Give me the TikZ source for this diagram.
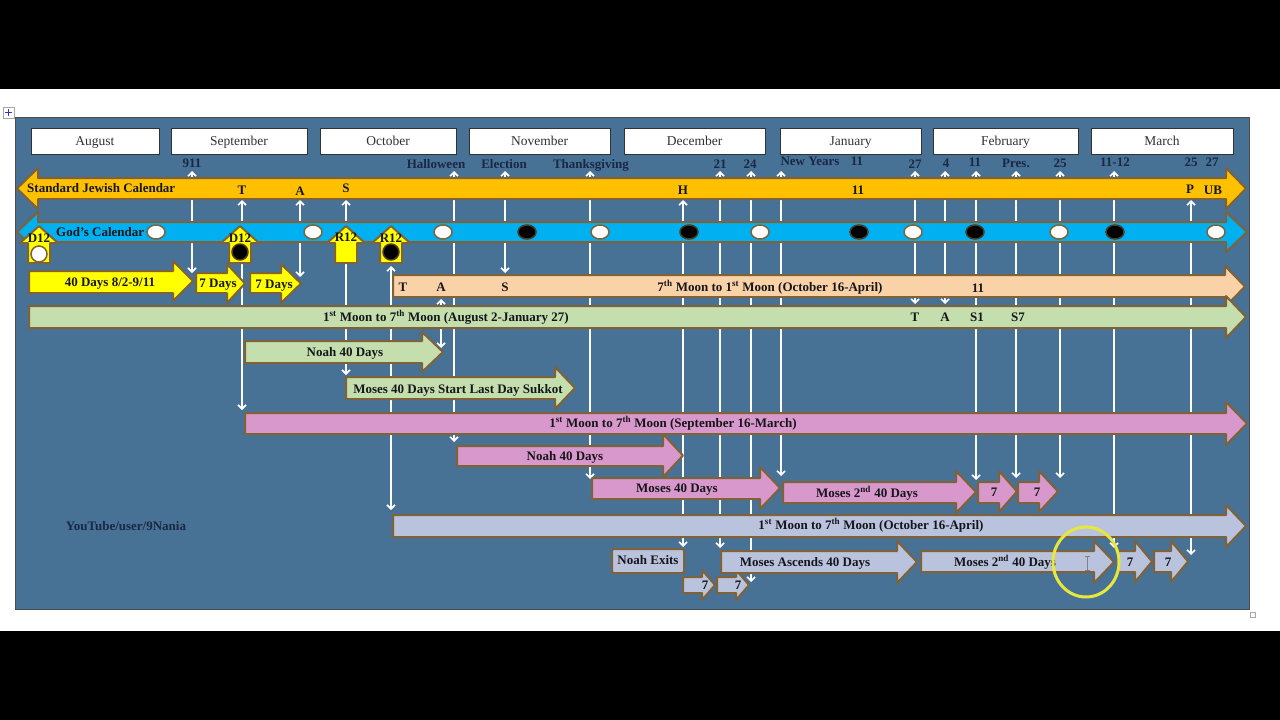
\documentclass[tikz,border=0pt]{standalone}
\usepackage{fontspec}
\setmainfont{Liberation Serif}
\usetikzlibrary{arrows.meta}
\definecolor{panel}{RGB}{72,113,150}
\definecolor{edge}{RGB}{128,98,56}
\definecolor{orng}{RGB}{255,192,0}
\definecolor{sky}{RGB}{0,176,240}
\definecolor{yel}{RGB}{255,255,0}
\definecolor{peach}{RGB}{250,210,168}
\definecolor{grn}{RGB}{196,222,174}
\definecolor{pnk}{RGB}{216,152,204}
\definecolor{lav}{RGB}{185,195,221}
\definecolor{ink}{RGB}{22,22,26}
\definecolor{navy}{RGB}{26,40,68}
\definecolor{mtext}{RGB}{50,50,50}
\definecolor{hilite}{RGB}{232,232,60}
\newcommand{\rarr}[8]{\draw[shp, fill=#1] (#2,#5) -- (#3,#5) -- (#3,#7) -- (#4,{(#7+#8)/2}) -- (#3,#8) -- (#3,#6) -- (#2,#6) -- cycle;}
\newcommand{\uparr}[1]{\draw[shp, fill=yel] (#1,226) -- ({#1+19},243) -- ({#1+11},243) -- ({#1+11},263) -- ({#1-11},263) -- ({#1-11},243) -- ({#1-19},243) -- cycle;}
\tikzset{
  lbl/.style={font=\fontsize{13}{15}\selectfont\bfseries, text=ink, inner sep=0pt, text height=8.6pt, text depth=0pt},
  toplbl/.style={lbl, text=navy},
  month/.style={draw=mtext, fill=white, line width=1pt, font=\fontsize{13.5}{15}\selectfont, text=mtext, minimum height=26pt, inner sep=0pt, text height=8.8pt, text depth=0pt},
  evl/.style={white, line width=1.6pt, {Straight Barb[length=4pt,width=8pt]}-{Straight Barb[length=4pt,width=8pt]}},
  shp/.style={draw=edge, line width=2pt, line join=round},
  wdot/.style={draw=edge, line width=1.5pt, fill=white},
  bdot/.style={draw=edge!60!black, line width=1.5pt, fill=black},
}
\begin{document}
\begin{tikzpicture}[x=1pt,y=-1pt]
\useasboundingbox (0,0) rectangle (1280,720);
\fill[black] (0,0) rectangle (1280,720);
\fill[white] (0,89) rectangle (1280,631);
% handles
\draw[gray!70, line width=0.6pt] (3,107) rectangle (14,118);
\draw[blue!60!gray, line width=0.8pt] (8.5,109) -- (8.5,116) (5,112.5) -- (12,112.5);
\draw[gray!70, line width=0.6pt] (1250,612) rectangle (1255,617);
% panel
\draw[draw=black!70, line width=1pt, fill=panel] (15.5,117.5) rectangle (1249.5,609.5);
% months
\node[month, minimum width=128pt] (aug) at (95,141) {August};
\node[month, minimum width=136pt] (sep) at (239,141) {September};
\node[month, minimum width=136pt] (oct) at (388,141) {October};
\node[month, minimum width=141pt] (nov) at (539.5,141) {November};
\node[month, minimum width=141pt] (dec) at (694.5,141) {December};
\node[month, minimum width=141pt] (jan) at (850.5,141) {January};
\node[month, minimum width=145pt] (feb) at (1005.5,141) {February};
\node[month, minimum width=142pt] (mar) at (1162,141) {March};
% top labels
\node[toplbl] (l911) at (192,163) {911};
\node[toplbl] (lhal) at (436,164) {Halloween};
\node[toplbl] (lele) at (504,164) {Election};
\node[toplbl] (ltha) at (591,164) {Thanksgiving};
\node[toplbl] (l21) at (720,164) {21};
\node[toplbl] (l24) at (750,164) {24};
\node[toplbl] (lny) at (810,161) {New Years};
\node[toplbl] (l11a) at (857,161) {11};
\node[toplbl] (l27a) at (915,164) {27};
\node[toplbl] (l4) at (946,163) {4};
\node[toplbl] (l11b) at (975,162) {11};
\node[toplbl] (lpre) at (1016,163) {Pres.};
\node[toplbl] (l25a) at (1060,163) {25};
\node[toplbl] (l1112) at (1115,162) {11-12};
\node[toplbl] (l25b) at (1191,162) {25};
\node[toplbl] (l27b) at (1212,162) {27};
% event lines (behind shapes)
\draw[evl] (192,171) -- (192,273);
\draw[evl] (242,200) -- (242,410);
\draw[evl] (300,200) -- (300,277);
\draw[evl] (346,200) -- (346,375);
\draw[evl] (391,266) -- (391,510);
\draw[evl] (441,299) -- (441,348);
\draw[evl] (454,171) -- (454,442);
\draw[evl] (505,171) -- (505,273);
\draw[evl] (590,171) -- (590,479);
\draw[evl] (683,200) -- (683,547);
\draw[evl] (720,171) -- (720,548);
\draw[evl] (751,171) -- (751,582);
\draw[evl] (781,171) -- (781,476);
\draw[evl] (915,171) -- (915,304);
\draw[evl] (945,171) -- (945,304);
\draw[evl] (976,171) -- (976,480);
\draw[evl] (1016,171) -- (1016,478);
\draw[evl] (1060,171) -- (1060,478);
\draw[evl] (1114,171) -- (1114,548);
\draw[evl] (1191,200) -- (1191,555);
% blue God's calendar (double head)
\draw[shp, fill=sky] (17,232) -- (38,212) -- (38,222) -- (1226,222) -- (1226,212) -- (1247,232) -- (1226,252) -- (1226,242) -- (38,242) -- (38,252) -- cycle;
% orange standard calendar
\draw[shp, fill=orng] (17,188.5) -- (38,168) -- (38,178) -- (1226,178) -- (1226,168) -- (1246,188.5) -- (1226,209) -- (1226,199) -- (38,199) -- (38,209) -- cycle;
\node[lbl, anchor=west] (sjc) at (27,188) {Standard Jewish Calendar};
\node[lbl] (oT) at (242,190) {T};
\node[lbl] (oA) at (300,191) {A};
\node[lbl] (oS) at (346,188) {S};
\node[lbl] (oH) at (683,190) {H};
\node[lbl] (o11) at (858,190) {11};
\node[lbl] (oP) at (1190,189) {P};
\node[lbl] (oUB) at (1213,190) {UB};
\node[lbl, anchor=west] (gc) at (56,232) {God’s Calendar};
% moon dots
\foreach \x in {156,313,443,600,760,913,1059,1216} \draw[wdot] (\x,232) ellipse [x radius=9, y radius=7];
\foreach \x in {527,689,859,975,1115} \draw[bdot] (\x,232) ellipse [x radius=9, y radius=7];
% yellow up arrows
\uparr{39} \uparr{240} \uparr{346} \uparr{391}
\draw[wdot] (39,254) circle [radius=8];
\draw[bdot] (240,252) circle [radius=8];
\draw[bdot] (391,252) circle [radius=8];
\node[lbl] (d12a) at (39,238) {D12};
\node[lbl] (d12b) at (240,238) {D12};
\node[lbl] (r12a) at (346,237) {R12};
\node[lbl] (r12b) at (391,238) {R12};
% yellow row
\rarr{yel}{29}{173}{193}{271}{293}{261}{301}
\node[lbl] (y40) at (110,282) {40 Days 8/2-9/11};
\rarr{yel}{196}{227}{245}{273}{293}{264}{303}
\node[lbl] (y7a) at (218,283) {7 Days};
\rarr{yel}{250}{281}{301}{273}{293}{264}{303}
\node[lbl] (y7b) at (274,284) {7 Days};
% peach
\rarr{peach}{393}{1225}{1245}{275}{297}{266}{307}
\node[lbl] (pT) at (403,287) {T};
\node[lbl] (pA) at (441,287) {A};
\node[lbl] (pS) at (505,287) {S};
\node[lbl] (pmoon) at (770,287) {7\textsuperscript{th} Moon to 1\textsuperscript{st} Moon (October 16-April)};
\node[lbl] (p11) at (978,288) {11};
% green
\rarr{grn}{29}{1226}{1246}{306}{328}{296}{338}
\node[lbl] (gmoon) at (446,317) {1\textsuperscript{st} Moon to 7\textsuperscript{th} Moon (August 2-January 27)};
\node[lbl] (gT) at (915,317) {T};
\node[lbl] (gA) at (945,317) {A};
\node[lbl] (gS1) at (977,317) {S1};
\node[lbl] (gS7) at (1018,317) {S7};
\rarr{grn}{245}{422}{443}{341}{363}{332}{372}
\node[lbl] (gnoah) at (345,352) {Noah 40 Days};
\rarr{grn}{346}{555}{575}{377}{399}{367}{409}
\node[lbl] (gmoses) at (458,389) {Moses 40 Days Start Last Day Sukkot};
% pink
\rarr{pnk}{245}{1226}{1247}{413}{434}{402}{445}
\node[lbl] (kmoon) at (673,423) {1\textsuperscript{st} Moon to 7\textsuperscript{th} Moon (September 16-March)};
\rarr{pnk}{457}{663}{683}{446}{466}{434}{477}
\node[lbl] (knoah) at (565,456) {Noah 40 Days};
\rarr{pnk}{592}{760}{780}{478}{499}{467}{509}
\node[lbl] (kmoses) at (677,488) {Moses 40 Days};
\rarr{pnk}{783}{956}{976}{482}{503}{471}{513}
\node[lbl] (kmoses2) at (867,493) {Moses 2\textsuperscript{nd} 40 Days};
\rarr{pnk}{978}{999}{1017}{482}{503}{471}{512}
\node[lbl] (k7a) at (994,492) {7};
\rarr{pnk}{1018}{1039}{1058}{482}{503}{471}{512}
\node[lbl] (k7b) at (1037,492) {7};
% lavender
\rarr{lav}{393}{1226}{1246}{515}{537}{505}{547}
\node[lbl] (vmoon) at (871,525) {1\textsuperscript{st} Moon to 7\textsuperscript{th} Moon (October 16-April)};
\draw[shp, fill=lav, rounded corners=1.5pt] (612,549) rectangle (684,573);
\node[lbl] (vexit) at (648,560) {Noah Exits};
\rarr{lav}{683}{702}{715}{577}{593}{570}{600}
\node[lbl] (v7a) at (705,585) {7};
\rarr{lav}{717}{736}{749}{577}{593}{570}{600}
\node[lbl] (v7b) at (738,585) {7};
\rarr{lav}{721}{897}{917}{551}{573}{541}{583}
\node[lbl] (vasc) at (805,562) {Moses Ascends 40 Days};
\rarr{lav}{921}{1094}{1114}{551}{572}{541}{583}
\node[lbl] (vmoses2) at (1005,562) {Moses 2\textsuperscript{nd} 40 Days};
\rarr{lav}{1118}{1135}{1152}{551}{572}{541}{582}
\node[lbl] (v7c) at (1130,562) {7};
\rarr{lav}{1154}{1171}{1188}{551}{572}{541}{582}
\node[lbl] (v7d) at (1168,562) {7};
% credit
\node[toplbl] (yt) at (126,526) {YouTube/user/9Nania};
% highlight circle and cursor
\draw[hilite, line width=3pt] (1086,562) ellipse [x radius=33, y radius=35];
\draw[gray, line width=0.8pt] (1087,556) -- (1087,570) (1084.5,556) -- (1089.5,556) (1084.5,570) -- (1089.5,570);
\end{tikzpicture}
\end{document}
